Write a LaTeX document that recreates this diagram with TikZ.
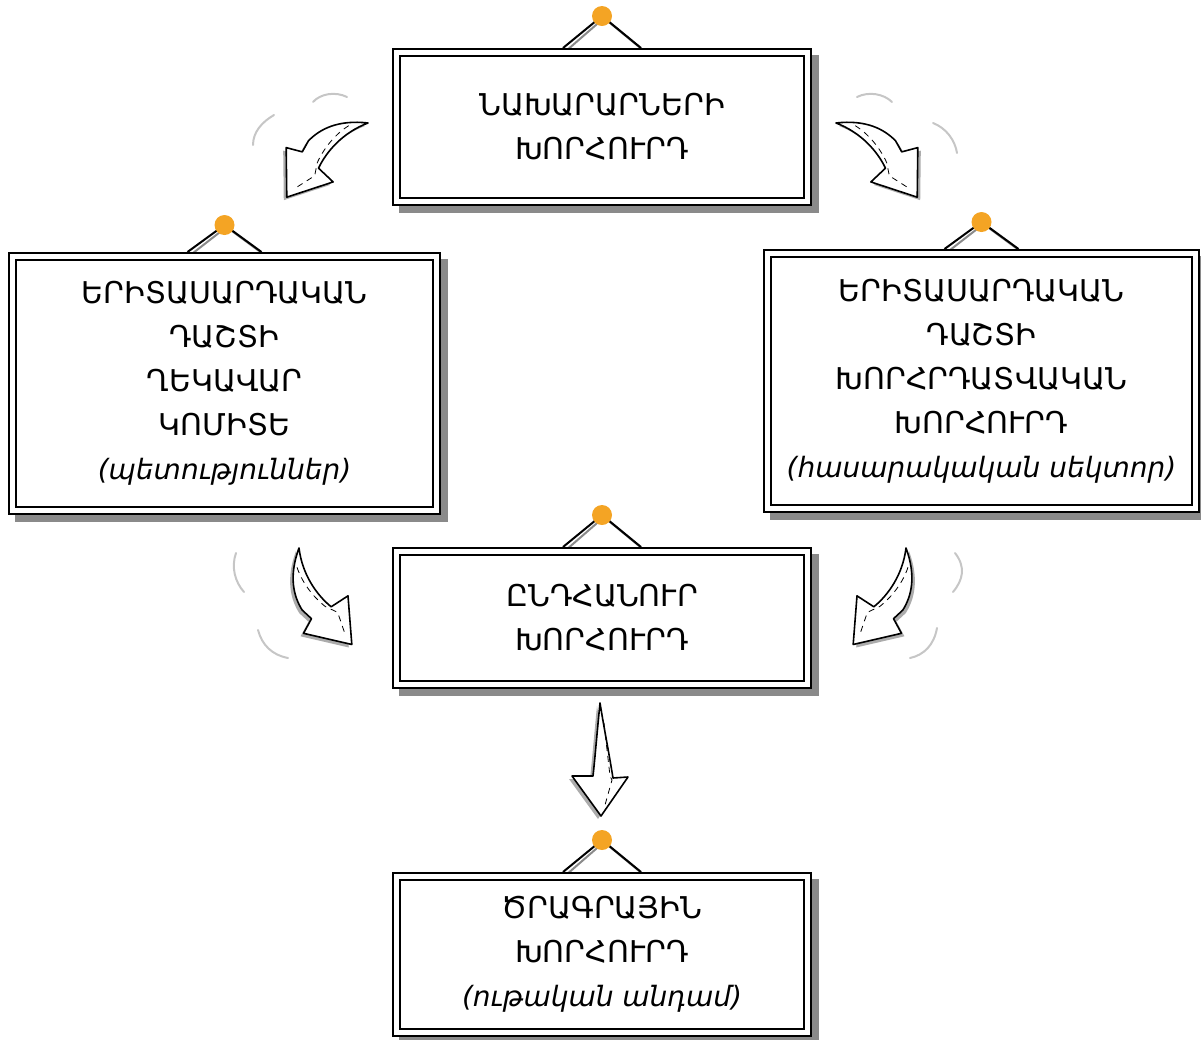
\documentclass[tikz,border=0pt]{standalone}
\usepackage{fontspec}
\newfontfamily\armfont{DejaVu Sans}
\usepackage{tikz}
\usetikzlibrary{backgrounds}

\definecolor{pinorange}{RGB}{244,164,36}
\definecolor{plaqueshade}{RGB}{138,138,138}

\newcommand{\sectornote}[1]{{\fontsize{14}{22}\selectfont\itshape #1}}

\tikzset{
    plaque/.style={draw, double=white, double distance=2.6pt, line width=0.9pt,
        fill=white, inner sep=0pt, outer sep=2.2pt, align=center,
        font=\armfont\fontsize{15}{22}\selectfont},
    nail/.style={circle, fill=pinorange, minimum size=10pt, inner sep=0pt},
    cord/.style={line width=1pt, black},
    cordshade/.style={line width=1pt, plaqueshade},
    arrowface/.style={draw=black, fill=white, line width=0.8pt, line join=round},
    arrowshade/.style={fill=gray!65},
    stripe/.style={draw=black, line width=0.4pt, dash pattern=on 3pt off 2.5pt},
    swoosh/.style={gray!45, line width=1pt, line cap=round},
    bentarrow/.pic={
        \path[pic actions] (0,0) .. controls (20,23) and (40,28) .. (56,27)
            -- (68,23) -- (77,37) -- (110,0) -- (65.5,-20) -- (67,0)
            .. controls (50,7) and (25,10) .. (0,0) -- cycle;
    },
    bentstripe/.pic={
        \path[pic actions] (16,11) .. controls (32,14) and (50,11) .. (64,5)
            -- (75,-3) -- (98,1);
    },
    droparrow/.pic={
        \path[pic actions] (0,0) .. controls (-3,30) and (-5,55) .. (-7,73)
            -- (-28,73) -- (1,113) -- (28,74) -- (13,75)
            .. controls (9,50) and (4,25) .. (0,0) -- cycle;
    },
    dropstripe/.pic={
        \path[pic actions] (4,20) -- (10,73) -- (12,77) -- (5,102);
    },
}

\begin{document}
\begin{tikzpicture}[x=0.5pt, y=-0.5pt]
    \useasboundingbox (0,0) rectangle (1201,1040);

    % Plaques
    \path
    (602,127) node[plaque, minimum width=205.6pt, minimum height=74.6pt] (T)
        {ՆԱԽԱՐԱՐՆԵՐԻ\\ԽՈՐՀՈՒՐԴ}
    (224.5,383.5) node[plaque, minimum width=212.1pt, minimum height=127.1pt] (L)
        {ԵՐԻՏԱՍԱՐԴԱԿԱՆ\\ԴԱՇՏԻ\\ՂԵԿԱՎԱՐ\\ԿՈՄԻՏԵ\\\sectornote{(պետություններ)}}
    (981.5,381) node[plaque, minimum width=214.1pt, minimum height=127.6pt] (R)
        {ԵՐԻՏԱՍԱՐԴԱԿԱՆ\\ԴԱՇՏԻ\\ԽՈՐՀՐԴԱՏՎԱԿԱՆ\\ԽՈՐՀՈՒՐԴ\\\sectornote{(հասարակական սեկտոր)}}
    (602,618) node[plaque, minimum width=205.6pt, minimum height=66.6pt] (M)
        {ԸՆԴՀԱՆՈՒՐ\\ԽՈՐՀՈՒՐԴ}
    (602,954.5) node[plaque, minimum width=205.6pt, minimum height=78.1pt] (B)
        {ԾՐԱԳՐԱՅԻՆ\\ԽՈՐՀՈՒՐԴ\\\sectornote{(ութական անդամ)}}
    ;

    % Nails
    \path
    ([yshift=16pt]T.north) node[nail] (T-nail) {}
    ([yshift=13.5pt]L.north) node[nail] (L-nail) {}
    ([yshift=13.5pt]R.north) node[nail] (R-nail) {}
    ([yshift=16pt]M.north) node[nail] (M-nail) {}
    ([yshift=16pt]B.north) node[nail] (B-nail) {}
    ;

    % Shadows and cords
    \begin{scope}[on background layer]
        \fill[plaqueshade] ([shift={(7,7)}]T.south west) rectangle ([shift={(7,7)}]T.north east);
        \fill[plaqueshade] ([shift={(7,7)}]L.south west) rectangle ([shift={(7,7)}]L.north east);
        \fill[plaqueshade] ([shift={(7,7)}]R.south west) rectangle ([shift={(7,7)}]R.north east);
        \fill[plaqueshade] ([shift={(7,7)}]M.south west) rectangle ([shift={(7,7)}]M.north east);
        \fill[plaqueshade] ([shift={(7,7)}]B.south west) rectangle ([shift={(7,7)}]B.north east);

        \draw[cordshade] ([shift={(-36,3)}]T.north) -- ([shift={(2,2)}]T-nail.center) -- ([shift={(42,3)}]T.north);
        \draw[cordshade] ([shift={(-34,3)}]L.north) -- ([shift={(2,2)}]L-nail.center) -- ([shift={(40,3)}]L.north);
        \draw[cordshade] ([shift={(-34,3)}]R.north) -- ([shift={(2,2)}]R-nail.center) -- ([shift={(40,3)}]R.north);
        \draw[cordshade] ([shift={(-36,3)}]M.north) -- ([shift={(2,2)}]M-nail.center) -- ([shift={(42,3)}]M.north);
        \draw[cordshade] ([shift={(-36,3)}]B.north) -- ([shift={(2,2)}]B-nail.center) -- ([shift={(42,3)}]B.north);

        \draw[cord] ([xshift=-19.5pt]T.north) -- (T-nail.center) -- ([xshift=19.5pt]T.north);
        \draw[cord] ([xshift=-18.5pt]L.north) -- (L-nail.center) -- ([xshift=18.5pt]L.north);
        \draw[cord] ([xshift=-18.5pt]R.north) -- (R-nail.center) -- ([xshift=18.5pt]R.north);
        \draw[cord] ([xshift=-19.5pt]M.north) -- (M-nail.center) -- ([xshift=19.5pt]M.north);
        \draw[cord] ([xshift=-19.5pt]B.north) -- (B-nail.center) -- ([xshift=19.5pt]B.north);
    \end{scope}

    % Motion marks
    \draw[swoosh] (253,145) .. controls (253,132) and (262,122) .. (274,115);
    \draw[swoosh] (313,102) .. controls (320,94) and (335,91) .. (347,97);
    \draw[swoosh] (857,97) .. controls (869,91) and (884,94) .. (892,102);
    \draw[swoosh] (933,123) .. controls (946,128) and (955,140) .. (957,153);
    \draw[swoosh] (236,553) .. controls (231,567) and (235,582) .. (244,592);
    \draw[swoosh] (258,630) .. controls (262,645) and (272,655) .. (288,658);
    \draw[swoosh] (955,553) .. controls (966,567) and (963,580) .. (953,592);
    \draw[swoosh] (937,628) .. controls (934,645) and (924,655) .. (910,658);

    % Bent arrows, top
    \pic[arrowshade, rotate=222.4] at (365,126) {bentarrow};
    \pic[arrowface, rotate=222.4] at (368,123) {bentarrow};
    \pic[stripe, rotate=222.4] at (368,123) {bentstripe};
    \pic[arrowshade, rotate=-42.4, yscale=-1] at (839,126) {bentarrow};
    \pic[arrowface, rotate=-42.4, yscale=-1] at (836,123) {bentarrow};
    \pic[stripe, rotate=-42.4, yscale=-1] at (836,123) {bentstripe};

    % Bent arrows, middle
    \pic[arrowshade, rotate=-61.3] at (296,551) {bentarrow};
    \pic[arrowface, rotate=-61.3] at (299,548) {bentarrow};
    \pic[stripe, rotate=-61.3] at (299,548) {bentstripe};
    \pic[arrowshade, rotate=241.3, yscale=-1] at (909,551) {bentarrow};
    \pic[arrowface, rotate=241.3, yscale=-1] at (906,548) {bentarrow};
    \pic[stripe, rotate=241.3, yscale=-1] at (906,548) {bentstripe};

    % Down arrow
    \pic[arrowshade] at (597,706) {droparrow};
    \pic[arrowface] at (600,703) {droparrow};
    \pic[stripe] at (600,703) {dropstripe};

\end{tikzpicture}
\end{document}
